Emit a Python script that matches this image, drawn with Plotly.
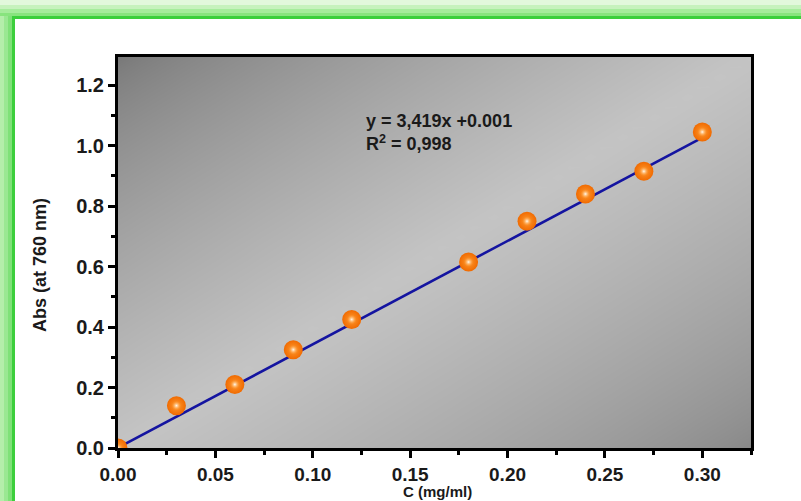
import numpy as np
import plotly.graph_objects as go

# ---- data ----
conc = [0.00, 0.03, 0.06, 0.09, 0.12, 0.18, 0.21, 0.24, 0.27, 0.30]
absorb = [0.00, 0.14, 0.21, 0.325, 0.425, 0.615, 0.75, 0.84, 0.915, 1.045]
slope = 3.419
intercept = 0.001
eq_text = "y = 3,419x +0.001"
r2_text = "R<sup>2</sup> = 0,998"
x_ticks = [0.00, 0.05, 0.10, 0.15, 0.20, 0.25, 0.30]
y_ticks = [0.0, 0.2, 0.4, 0.6, 0.8, 1.0, 1.2]
x_title = "C (mg/ml)"
y_title = "Abs (at 760 nm)"

XR = [0, 0.325]
YR = [0, 1.293]

# plot-area geometry in pixels (for decorative shapes / placement)
L, R, T, B = 118, 751, 57, 448
W, H = 801, 501


def px2x(px):
    return (px - L) / (R - L)


def py2y(py):
    return (B - py) / (B - T)


FONT = "Arial, Liberation Sans, sans-serif"
TXT = "#1a1a1a"

fig = go.Figure()

# gradient background (style only)
nx, ny = 60, 40
gx = np.linspace(XR[0], XR[1], nx)
gy = np.linspace(YR[0], YR[1], ny)
U, V = np.meshgrid(np.linspace(0, 1, nx), np.linspace(0, 1, ny))
t = (U + (1 - V)) / 2
dark = np.where(t < 0.5, 120, 135)
bright = dark + (196 - dark) * (1 - np.abs(2 * t - 1)) ** 0.75
fig.add_trace(go.Heatmap(x=gx, y=gy, z=bright, zmin=0, zmax=255,
                         colorscale=[[0, "rgb(0,0,0)"], [1, "rgb(255,255,255)"]],
                         showscale=False, zsmooth="best", hoverinfo="skip"))

# fit line
fx = [min(conc), max(conc)]
fy = [slope * v + intercept for v in fx]
fig.add_trace(go.Scatter(x=fx, y=fy, mode="lines",
                         line=dict(color="#1414a0", width=2.6), hoverinfo="skip"))

# markers (sphere look)
fig.add_trace(go.Scatter(x=conc, y=absorb, mode="markers",
                         marker=dict(size=19, color="#f06a00",
                                     gradient=dict(type="radial", color="#ff9a30"),
                                     line=dict(width=0))))
fig.add_trace(go.Scatter(x=conc, y=absorb, mode="markers",
                         marker=dict(size=10, color="rgba(255,150,40,0)",
                                     gradient=dict(type="radial", color="#fffaf0"),
                                     line=dict(width=0)), hoverinfo="skip"))

# green frame (decorative)
shapes = []
top_bands = [(0, 5, "#e2f8dc"), (5, 9, "#c6f2bd"), (9, 13, "#a6ec9c"), (13, 16, "#88e47e"), (16, 19, "#3ccf3c")]
for y0, y1, c in top_bands:
    shapes.append(dict(type="rect", xref="paper", yref="paper",
                       x0=px2x(0), x1=px2x(W), y0=py2y(y1), y1=py2y(y0),
                       fillcolor=c, line=dict(width=0), layer="below"))
left_bands = [(0, 4, "#b4eeaa"), (4, 8, "#9ae892"), (8, 12, "#7fe178"), (12, 15, "#3ccf3c")]
for x0, x1, c in left_bands:
    shapes.append(dict(type="rect", xref="paper", yref="paper",
                       x0=px2x(x0), x1=px2x(x1), y0=py2y(H), y1=py2y(16),
                       fillcolor=c, line=dict(width=0), layer="below"))
fig.update_layout(shapes=shapes)

fig.add_annotation(x=px2x(364), y=py2y(109), xref="paper", yref="paper",
                   xanchor="left", yanchor="top", align="left", showarrow=False,
                   text=eq_text + "<br>" + r2_text,
                   font=dict(family=FONT, size=18, color=TXT, weight="bold"))

# axis titles as annotations
fig.add_annotation(x=px2x(40), y=py2y(265), xref="paper", yref="paper",
                   xanchor="center", yanchor="middle", showarrow=False, textangle=-90,
                   text=y_title,
                   font=dict(family=FONT, size=18, color=TXT, weight="bold"))
fig.add_annotation(x=px2x(437), y=py2y(501), xref="paper", yref="paper",
                   xanchor="center", yanchor="bottom", showarrow=False,
                   text=x_title, borderpad=0,
                   font=dict(family=FONT, size=15, color=TXT, weight="bold"))

axis_common = dict(showline=True, linewidth=3, linecolor="black", mirror=True,
                   ticks="outside", ticklen=7, tickwidth=3, tickcolor="black",
                   showgrid=False, zeroline=False, automargin=False)

fig.update_xaxes(range=XR, tickvals=x_ticks, ticktext=[f"{v:.2f}" for v in x_ticks],
                 tickfont=dict(family=FONT, size=19, color=TXT, weight="bold"),
                 minor=dict(ticks="outside", ticklen=4, tickwidth=3, tickcolor="black", dtick=0.025, tick0=0),
                 **axis_common)
fig.update_yaxes(range=YR, tickvals=y_ticks, ticktext=[f"{v:.1f}" for v in y_ticks],
                 tickfont=dict(family=FONT, size=20, color=TXT, weight="bold"),
                 minor=dict(ticks="outside", ticklen=4, tickwidth=3, tickcolor="black", dtick=0.1, tick0=0),
                 **axis_common)

fig.update_layout(width=W, height=H, showlegend=False,
                  margin=dict(l=L, r=W - R, t=T, b=H - B),
                  paper_bgcolor="white", plot_bgcolor="#b0b0b0")

fig.write_html("out.html")
